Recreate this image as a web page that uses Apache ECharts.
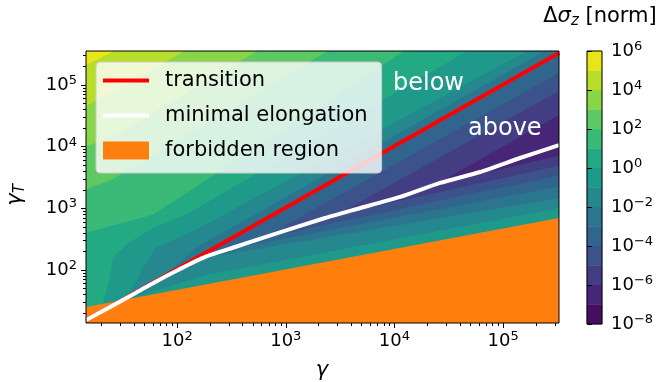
<!DOCTYPE html>
<html>
<head>
<meta charset="utf-8">
<script src="https://cdn.jsdelivr.net/npm/echarts@6/dist/echarts.min.js"></script>
<style>
  html, body { margin: 0; padding: 0; background: #ffffff; }
  #chart { width: 658px; height: 382px; }
</style>
</head>
<body>
<div id="chart"></div>
<script>
const FONT = 'DejaVu Sans';

// ---- axes ----
const gammaRange = [14.5, 327000];
const gammaTRange = [13.8, 356000];
const gammaTicks = [1e2, 1e3, 1e4, 1e5];
const gammaTTicks = [1e2, 1e3, 1e4, 1e5];
const gammaMinorTicks = [20, 30, 40, 50, 60, 70, 80, 90,
  200, 300, 400, 500, 600, 700, 800, 900,
  2000, 3000, 4000, 5000, 6000, 7000, 8000, 9000,
  20000, 30000, 40000, 50000, 60000, 70000, 80000, 90000,
  200000, 300000];
const gammaTMinorTicks = [20, 30, 40, 50, 60, 70, 80, 90,
  200, 300, 400, 500, 600, 700, 800, 900,
  2000, 3000, 4000, 5000, 6000, 7000, 8000, 9000,
  20000, 30000, 40000, 50000, 60000, 70000, 80000, 90000,
  200000, 300000];

// ---- colour scale: Δσz bands, one decade each ----
const colorLevels = [1e-8, 1e-7, 1e-6, 1e-5, 1e-4, 1e-3, 1e-2, 1e-1, 1, 1e1, 1e2, 1e3, 1e4, 1e5, 1e6];
const colorTicks = [1e-8, 1e-6, 1e-4, 1e-2, 1, 1e2, 1e4, 1e6];
const bandColors = ['#460e61', '#482677', '#433d84', '#3b528b', '#32658e', '#2b768e', '#24888e',
  '#1f998a', '#24aa83', '#3aba76', '#5ec962', '#88d548', '#b8de29', '#e8e51a'];

// ---- iso-lines of Δσz, points given as [γ, γT] ----
// levels whose iso-line crosses the field from the left/bottom to the top edge
const iso1e5 = [[14.5, 209000], [26.9, 356000]];
const iso1e4 = [[14.5, 44700], [119, 356000]];
const iso1e3 = [[14.5, 10000], [28.2, 15800], [556, 356000]];
const iso1e2 = [[14.5, 2000], [25.1, 2880], [2450, 356000]];
const iso1e1 = [[14.5, 398], [60.1, 780], [12500, 356000]];
const iso1e0 = [[20.6, 20], [20.8, 28.3], [23.7, 63.8], [25.8, 157], [34.0, 254], [60.1, 480], [121, 780], [47600, 356000]];
const crossLevels = [5, 4, 3, 2, 1, 0];
const crossLines = [iso1e5, iso1e4, iso1e3, iso1e2, iso1e1, iso1e0];

// levels that close on the minimal-elongation curve: branch above it and branch below it
const iso1em1Above = [[34.2, 33.3], [42.0, 63.8], [48.6, 108], [64.1, 228], [150, 446], [170000, 356000]];
const iso1em1Below = [[34.2, 33.3], [181, 84], [327000, 1023]];
const iso1em2Above = [[74.1, 74.5], [150, 228], [245000, 356000]];
const iso1em2Below = [[74.1, 74.5], [181, 160], [327000, 1479]];
const iso1em3Above = [[158, 148], [327000, 295000]];
const iso1em3Below = [[158, 148], [342, 230], [327000, 2290]];
const iso1em4Above = [[631, 336], [327000, 155000]];
const iso1em4Below = [[631, 336], [327000, 3470]];
const iso1em5Above = [[3160, 819], [327000, 79400]];
const iso1em5Below = [[3160, 819], [327000, 5010]];
const iso1em6Above = [[25100, 2510], [327000, 32400]];
const iso1em6Below = [[25100, 2510], [327000, 7240]];
const wedgeLevels = [-1, -2, -3, -4, -5, -6];
const wedgeAbove = [iso1em1Above, iso1em2Above, iso1em3Above, iso1em4Above, iso1em5Above, iso1em6Above];
const wedgeBelow = [iso1em1Below, iso1em2Below, iso1em3Below, iso1em4Below, iso1em5Below, iso1em6Below];

// ---- curves ----
const transitionLine = [[14.5, 15.2], [327000, 331000]];
const minimalElongation = [[14.5, 15.3], [41.1, 42.0], [62.8, 64.0], [102, 100], [181, 163], [342, 236],
  [748, 370], [2300, 697], [4170, 940], [11300, 1530], [26300, 2580], [61400, 3880], [143000, 6550], [327000, 10600]];
const forbiddenEdge = [[14.5, 25.1], [327000, 697]];

// ---- filled band polygons (painted from the highest level down) ----
const [xLo, xHi] = gammaRange;
const [yLo, yHi] = gammaTRange;
const bandIndex = (exp) => exp + 7; // band just below the level 10^exp
const fieldPolygons = [];
fieldPolygons.push({ points: [[xLo, yLo], [xHi, yLo], [xHi, yHi], [xLo, yHi]], color: bandColors[13] });
crossLines.forEach((line, j) => {
  const first = line[0];
  const pts = line.concat([[xHi, yHi], [xHi, yLo], [first[0], yLo]]);
  fieldPolygons.push({ points: pts, color: bandColors[bandIndex(crossLevels[j])] });
});
wedgeAbove.forEach((above, j) => {
  const below = wedgeBelow[j];
  const pts = above.slice();
  const last = above[above.length - 1];
  if (last[1] >= yHi) pts.push([xHi, yHi]);
  below.slice().reverse().forEach(p => pts.push(p));
  fieldPolygons.push({ points: pts, color: bandColors[bandIndex(wedgeLevels[j])] });
});

function powLabel(v) {
  const e = Math.round(Math.log10(v));
  const s = e < 0 ? '\u2212' + (-e) : String(e);
  return '{b|10}{s|' + s + '}';
}
const tickRich = {
  b: { fontFamily: FONT, fontSize: 18, lineHeight: 22, color: '#000' },
  s: { fontFamily: FONT, fontSize: 13, lineHeight: 13, verticalAlign: 'top', color: '#000' }
};

function logAxis(extra) {
  return Object.assign({
    type: 'log', logBase: 10, gridIndex: 0,
    axisLine: { show: false },
    splitLine: { show: false },
    minorTick: { show: false },
    z: 5
  }, extra);
}

const lineIcon = 'path://M0,0H46V4H0Z';

const chart = echarts.init(document.getElementById('chart'), null, { renderer: 'canvas' });

chart.setOption({
  animation: false,
  backgroundColor: '#ffffff',
  grid: [
    { left: 86, top: 51, width: 473, height: 272 },
    { left: 587, top: 51, width: 15, height: 273 }
  ],
  xAxis: [
    logAxis({ min: xLo, max: xHi, position: 'bottom',
      axisTick: { show: true, customValues: gammaTicks, length: 5, lineStyle: { color: '#000', width: 1 } },
      axisLabel: { show: true, customValues: gammaTicks, formatter: powLabel, rich: tickRich, margin: 7 } }),
    logAxis({ min: xLo, max: xHi, position: 'bottom',
      axisTick: { show: true, customValues: gammaMinorTicks, length: 3, lineStyle: { color: '#000', width: 1 } },
      axisLabel: { show: false } }),
    { type: 'value', gridIndex: 1, min: 0, max: 1, show: false }
  ],
  yAxis: [
    logAxis({ min: yLo, max: yHi, position: 'left',
      axisTick: { show: true, customValues: gammaTTicks, length: 5, lineStyle: { color: '#000', width: 1 } },
      axisLabel: { show: true, customValues: gammaTTicks, formatter: powLabel, rich: tickRich, margin: 9 } }),
    logAxis({ min: yLo, max: yHi, position: 'left',
      axisTick: { show: true, customValues: gammaTMinorTicks, length: 3, lineStyle: { color: '#000', width: 1 } },
      axisLabel: { show: false } }),
    logAxis({ gridIndex: 1, min: colorLevels[0], max: colorLevels[colorLevels.length - 1], position: 'right',
      axisTick: { show: true, customValues: colorTicks, length: 5, lineStyle: { color: '#000', width: 1 } },
      axisLabel: { show: true, customValues: colorTicks, formatter: powLabel, rich: tickRich, margin: 9 } })
  ],
  legend: {
    show: true, orient: 'vertical', left: 96, top: 62,
    padding: [8, 14, 12, 7],
    itemWidth: 46, itemHeight: 18, itemGap: 14,
    symbolKeepAspect: true,
    backgroundColor: 'rgba(255,255,255,0.8)',
    borderColor: '#cccccc', borderWidth: 1, borderRadius: 4,
    selectedMode: false, z: 10,
    textStyle: { fontFamily: FONT, fontSize: 21, color: '#000', lineHeight: 18, padding: [0, 0, 0, 11] },
    data: [
      { name: 'transition', icon: lineIcon, itemStyle: { color: '#ff0000' } },
      { name: 'minimal elongation', icon: lineIcon, itemStyle: { color: '#ffffff' } },
      { name: 'forbidden region', icon: 'rect', itemStyle: { color: '#ff7f0e' } }
    ]
  },
  series: [
    {
      name: 'field', type: 'custom', xAxisIndex: 0, yAxisIndex: 0, clip: true, z: 1, silent: true,
      encode: { x: 0, y: 1 },
      data: fieldPolygons.map(p => p.points[0]),
      renderItem: (params, api) => {
        const poly = fieldPolygons[params.dataIndex];
        return {
          type: 'polygon',
          shape: { points: poly.points.map(p => api.coord(p)) },
          style: { fill: poly.color, stroke: poly.color, lineWidth: 0.6 }
        };
      }
    },
    {
      name: 'forbidden region', type: 'line', xAxisIndex: 0, yAxisIndex: 0, z: 2, silent: true,
      data: forbiddenEdge, symbol: 'none', color: '#ff7f0e',
      lineStyle: { width: 0 },
      areaStyle: { color: '#ff7f0e', opacity: 1, origin: 'start' }
    },
    {
      name: 'transition', type: 'line', xAxisIndex: 0, yAxisIndex: 0, z: 3, silent: true,
      data: transitionLine, symbol: 'none', showSymbol: false, color: '#ff0000',
      lineStyle: { color: '#ff0000', width: 4 }
    },
    {
      name: 'minimal elongation', type: 'line', xAxisIndex: 0, yAxisIndex: 0, z: 3, silent: true,
      data: minimalElongation, symbol: 'none', showSymbol: false, color: '#ffffff', smooth: 0.2,
      lineStyle: { color: '#ffffff', width: 4 }
    },
    {
      name: 'frame', type: 'custom', xAxisIndex: 0, yAxisIndex: 0, clip: false, z: 4, silent: true,
      encode: { x: 0, y: 1 },
      data: [[xLo, yLo]],
      renderItem: (params, api) => {
        const a = api.coord([xLo, yHi]);
        const b = api.coord([xHi, yLo]);
        return { type: 'rect', shape: { x: a[0], y: a[1], width: b[0] - a[0], height: b[1] - a[1] },
          style: { fill: 'none', stroke: '#000', lineWidth: 1 } };
      }
    },
    {
      name: 'colorbar', type: 'custom', xAxisIndex: 2, yAxisIndex: 2, z: 2, silent: true,
      encode: { x: [0, 2], y: [1, 3] },
      data: bandColors.map((c, i) => [0, colorLevels[i], 1, colorLevels[i + 1]]),
      renderItem: (params, api) => {
        const a = api.coord([api.value(0), api.value(3)]);
        const b = api.coord([api.value(2), api.value(1)]);
        const c = bandColors[params.dataIndex];
        return { type: 'rect', shape: { x: a[0], y: a[1], width: b[0] - a[0], height: b[1] - a[1] },
          style: { fill: c, stroke: c, lineWidth: 0.5 } };
      }
    },
    {
      name: 'colorbar frame', type: 'custom', xAxisIndex: 2, yAxisIndex: 2, z: 4, silent: true,
      encode: { x: 0, y: 1 },
      data: [[0, colorLevels[0]]],
      renderItem: (params, api) => {
        const a = api.coord([0, colorLevels[colorLevels.length - 1]]);
        const b = api.coord([1, colorLevels[0]]);
        return { type: 'rect', shape: { x: a[0], y: a[1], width: b[0] - a[0], height: b[1] - a[1] },
          style: { fill: 'none', stroke: '#000', lineWidth: 1 } };
      }
    }
  ],
  graphic: [
    { type: 'text', x: 322, y: 371, z: 20,
      style: { text: 'γ', fontFamily: FONT, fontStyle: 'italic', fontSize: 21, fill: '#000', align: 'center', verticalAlign: 'middle' } },
    { type: 'text', x: 16, y: 195, rotation: Math.PI / 2, z: 20,
      style: { text: '{g|γ}{t|T}', align: 'center', verticalAlign: 'middle',
        rich: { g: { fontFamily: FONT, fontStyle: 'italic', fontSize: 21, lineHeight: 24, fill: '#000' },
                t: { fontFamily: FONT, fontStyle: 'italic', fontSize: 15, lineHeight: 15, verticalAlign: 'bottom', fill: '#000' } } } },
    { type: 'text', x: 600, y: 17, z: 20,
      style: { text: '{a|Δ}{i|σ}{z|z}{a| [norm]}', align: 'center', verticalAlign: 'middle',
        rich: { a: { fontFamily: FONT, fontSize: 21, lineHeight: 24, fill: '#000' },
                i: { fontFamily: FONT, fontStyle: 'italic', fontSize: 21, lineHeight: 24, fill: '#000' },
                z: { fontFamily: FONT, fontStyle: 'italic', fontSize: 15, lineHeight: 15, verticalAlign: 'bottom', fill: '#000' } } } },
    { type: 'text', x: 393, y: 84, z: 20,
      style: { text: 'below', fontFamily: FONT, fontSize: 24, fill: '#ffffff', align: 'left', verticalAlign: 'middle' } },
    { type: 'text', x: 468, y: 129, z: 20,
      style: { text: 'above', fontFamily: FONT, fontSize: 24, fill: '#ffffff', align: 'left', verticalAlign: 'middle' } }
  ]
});
</script>
</body>
</html>
